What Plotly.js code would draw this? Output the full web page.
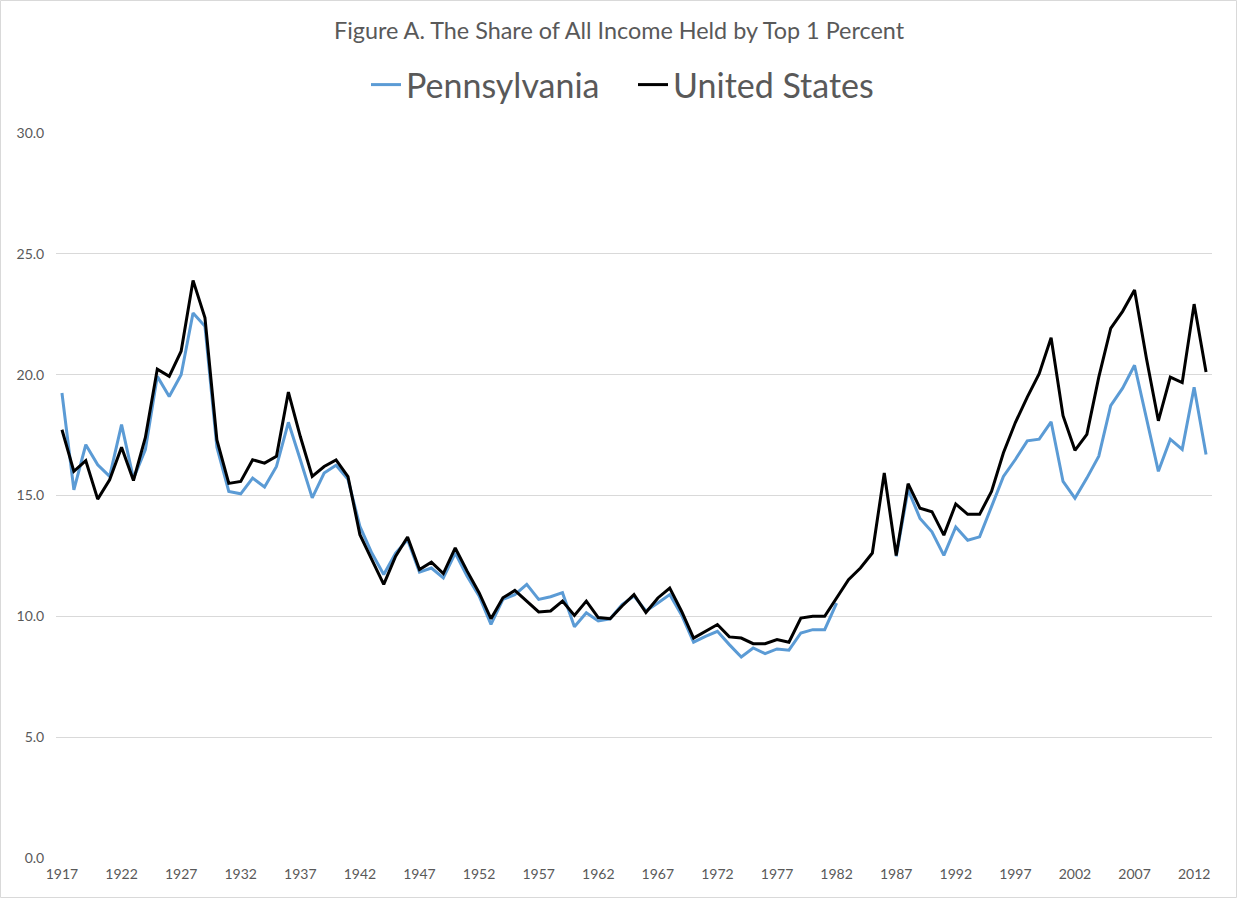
<!DOCTYPE html>
<html>
<head>
<meta charset="utf-8">
<script src="https://cdn.plot.ly/plotly-3.0.1.min.js"></script>
<style>html,body{margin:0;padding:0;background:#fff;}#chart{width:1238px;height:900px;}</style>
</head>
<body>
<div id="chart"></div>
<script>
const years = [];
for (let y = 1917; y <= 2013; y++) years.push(y);

const pennsylvania = [
  19.24, 15.23, 17.10, 16.27, 15.79, 17.93, 15.70, 16.90, 19.93, 19.10,
  20.00, 22.55, 22.00, 17.00, 15.17, 15.07, 15.72, 15.35, 16.20, 18.03,
  16.48, 14.90, 15.93, 16.25, 15.67, 13.72, 12.62, 11.73, 12.62, 13.17,
  11.83, 12.00, 11.59, 12.62, 11.66, 10.84, 9.67, 10.70, 10.90, 11.32,
  10.70, 10.81, 10.98, 9.57, 10.15, 9.81, 9.90, 10.49, 10.84, 10.22,
  10.55, 10.90, 10.05, 8.93, 9.17, 9.38, 8.83, 8.32, 8.69, 8.46,
  8.65, 8.60, 9.31, 9.45, 9.45, 10.55, null, null, null, null,
  12.48, 15.24, 14.05, 13.50, 12.52, 13.70, 13.15, 13.29, 14.54, 15.79,
  16.49, 17.26, 17.33, 18.05, 15.58, 14.89, 15.72, 16.63, 18.72, 19.44,
  20.39, 18.16, 16.00, 17.33, 16.91, 19.48, 16.70
];

const unitedStates = [
  17.72, 16.00, 16.44, 14.85, 15.65, 17.00, 15.62, 17.40, 20.23, 19.93,
  20.97, 23.90, 22.35, 17.30, 15.50, 15.58, 16.48, 16.34, 16.62, 19.28,
  17.44, 15.79, 16.20, 16.47, 15.78, 13.38, 12.35, 11.32, 12.49, 13.28,
  11.94, 12.24, 11.77, 12.83, 11.87, 10.98, 9.90, 10.77, 11.07, 10.63,
  10.18, 10.22, 10.63, 10.04, 10.63, 9.95, 9.90, 10.43, 10.90, 10.16,
  10.76, 11.17, 10.20, 9.10, 9.38, 9.66, 9.15, 9.10, 8.87, 8.87,
  9.04, 8.93, 9.93, 10.00, 10.00, 10.76, 11.52, 12.00, 12.62, 15.93,
  12.52, 15.49, 14.47, 14.33, 13.36, 14.65, 14.22, 14.22, 15.17, 16.77,
  18.02, 19.07, 20.04, 21.53, 18.30, 16.87, 17.53, 19.90, 21.92, 22.62,
  23.50, 20.67, 18.09, 19.90, 19.67, 22.92, 20.11
];

const xTickYears = [1917,1922,1927,1932,1937,1942,1947,1952,1957,1962,1967,1972,1977,1982,1987,1992,1997,2002,2007,2012];
const yTickValues = [0,5,10,15,20,25,30];
const yTickLabels = ['0.0','5.0','10.0','15.0','20.0','25.0','30.0'];

const W = 1238, H = 900;
const M = {l:56, r:26, t:133, b:42};
const pw = W - M.l - M.r, ph = H - M.t - M.b;
const FONT = 'Lato, "Open Sans", sans-serif';
const GREY = '#595959';

const traces = [
  {x: years, y: pennsylvania, name: 'Pennsylvania', type: 'scatter', mode: 'lines',
   line: {color: '#5B9BD5', width: 3}, connectgaps: false},
  {x: years, y: unitedStates, name: 'United States', type: 'scatter', mode: 'lines',
   line: {color: '#000000', width: 3}}
];

const layout = {
  width: W, height: H,
  margin: M,
  paper_bgcolor: '#fff', plot_bgcolor: '#fff',
  font: {family: FONT, color: GREY},
  title: {text: 'Figure A. The Share of All Income Held by Top 1 Percent',
          font: {family: FONT, size: 23.4, color: GREY},
          x: 0.5, xref: 'container', y: 1 - 31/H, yanchor: 'middle'},
  showlegend: true,
  legend: {orientation: 'h', x: (366 - M.l)/pw, xanchor: 'left', xref: 'paper',
           y: 1 + (133-85)/ph, yanchor: 'middle', yref: 'paper',
           font: {family: FONT, size: 34, color: GREY},
           entrywidth: 222, entrywidthmode: 'pixels',
           itemwidth: 30, tracegroupgap: 0, bgcolor: 'rgba(0,0,0,0)'},
  xaxis: {range: [1916.5, 2013.5], tickmode: 'array', tickvals: xTickYears,
          ticktext: xTickYears.map(String), showgrid: false, zeroline: false,
          showline: false, ticks: 'outside', ticklen: 3, tickcolor: 'rgba(0,0,0,0)',
          tickfont: {family: FONT, size: 14, color: GREY}},
  yaxis: {range: [0, 30], tickmode: 'array', tickvals: yTickValues, ticktext: yTickLabels,
          showgrid: true, gridcolor: '#D9D9D9', gridwidth: 1, zeroline: false,
          showline: false, ticks: 'outside', ticklen: 8, tickcolor: 'rgba(0,0,0,0)',
          tickfont: {family: FONT, size: 14, color: GREY}},
  shapes: [{type: 'rect', xref: 'paper', yref: 'paper',
            x0: (0.5 - M.l)/pw, x1: (W - 1.5 - M.l)/pw,
            y0: -(M.b - 2.5)/ph, y1: 1 + (M.t - 0.5)/ph,
            line: {color: '#D9D9D9', width: 1}, fillcolor: 'rgba(0,0,0,0)', layer: 'below'}]
};

Plotly.newPlot('chart', traces, layout, {staticPlot: true, displayModeBar: false});
</script>
</body>
</html>
